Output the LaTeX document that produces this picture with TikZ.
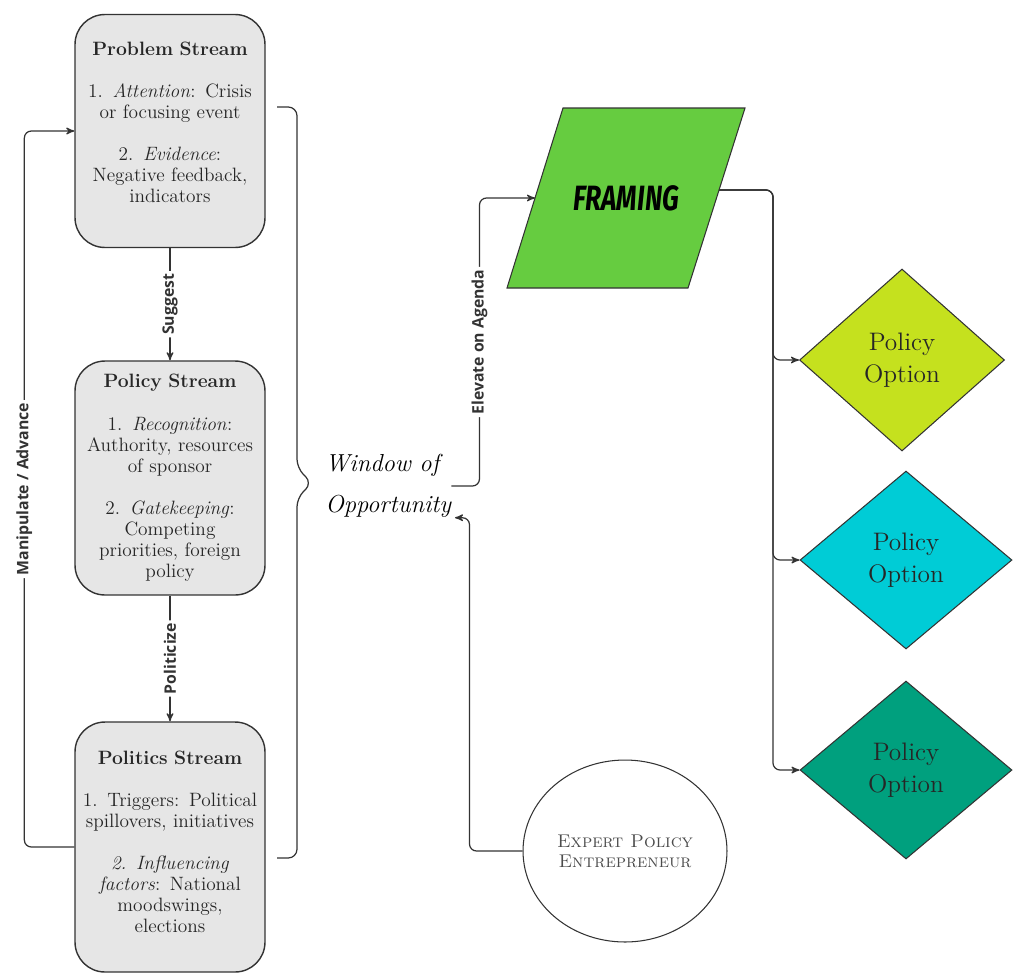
\documentclass[tikz,border=0pt]{standalone}
\usepackage{fontspec}
\usepackage{tikz}
\usetikzlibrary{shapes, arrows, calc}
\newfontfamily\labelfont{Open Sans}
\newfontfamily\framefont{Fira Sans}
\definecolor{streamgray}{HTML}{E6E6E6}
\definecolor{linegray}{HTML}{333333}
\definecolor{framegreen}{HTML}{66CC40}
\definecolor{optlime}{HTML}{C5E11E}
\definecolor{optcyan}{HTML}{00CCD6}
\definecolor{optteal}{HTML}{00A07E}

\begin{document}
\begin{tikzpicture}[x=0.02cm,y=-0.02cm,>=stealth',
	stream/.style={rectangle,rounded corners=17pt,draw=linegray,fill=streamgray,line width=0.8pt,
		text width=3.8cm,inner sep=0pt,align=center,text=black!85,font=\fontsize{11}{12}\selectfont},
	option/.style={diamond,draw=linegray,line width=0.6pt,inner sep=0pt,align=center,
		font=\Large,text=black!85},
	conn/.style={->,draw=linegray,line width=0.7pt,rounded corners=4pt},
	lbl/.style={font=\labelfont\bfseries\fontsize{9}{10}\selectfont,text=linegray,
		fill=white,rotate=90,inner sep=1.5pt}]
	\useasboundingbox (0,0) rectangle (1013,974);

	% the three streams
	\node[stream,minimum height=4.66cm] (problem) at (170,131) {\textbf{Problem Stream}\\[12pt]
		1. \textit{Attention}: Crisis\\ or focusing event\\[12pt]
		2. \textit{Evidence}:\\ Negative feedback,\\ indicators\\[-2pt]\mbox{}};
	\node[stream,minimum height=4.68cm] (policy) at (170,478) {\textbf{Policy Stream}\\[12pt]
		1. \textit{Recognition}:\\ Authority, resources\\ of sponsor\\[12pt]
		2. \textit{Gatekeeping}:\\ Competing\\ priorities, foreign\\ policy};
	\node[stream,minimum height=5cm] (politics) at (170,847) {\textbf{Politics Stream}\\[12pt]
		1. Triggers: Political\\ spillovers, initiatives\\[12pt]
		\textit{2. Influencing}\\ \textit{factors}: National\\ moodswings,\\ elections\\[-6pt]\mbox{}};

	\node[anchor=west,align=left,inner sep=0pt,font=\itshape\fontsize{14}{23}\selectfont] (window) at (325,486) {Window of\\Opportunity};

	% framing parallelogram
	\draw[draw=linegray,fill=framegreen,line width=0.6pt] (507,288) -- (563,108) -- (745,108) -- (688,288) -- cycle;
	\node (framing) at (626,198) {\framefont\bfseries\itshape\fontsize{20}{24}\selectfont\scalebox{0.75}[1]{FRAMING}};
	\coordinate (framing-w) at (535,198);
	\coordinate (framing-e) at (719,190);

	\node[option,fill=optlime,minimum width=4.1cm,minimum height=3.64cm] (opt1) at (902,360) {Policy\\Option};
	\node[option,fill=optcyan,minimum width=4.24cm,minimum height=3.56cm] (opt2) at (906,560) {Policy\\Option};
	\node[option,fill=optteal,minimum width=4.24cm,minimum height=3.56cm] (opt3) at (906,770) {Policy\\Option};

	\node[ellipse,draw=linegray,line width=0.6pt,minimum width=4.08cm,minimum height=3.64cm,inner sep=0pt,align=center,
		text=black!70,font=\fontsize{10.5}{11.5}\selectfont] (expert) at (625,851) {\textsc{Expert Policy}\\\textsc{Entrepreneur}};

	% brace round the streams
	\draw[linegray,line width=0.7pt,rounded corners=5pt] (277,107) -- (297,107) -- (297,468) -- (312,483)
		-- (297,498) -- (297,858) -- (277,858);

	\draw[conn] (problem) -- node[lbl] {Suggest} (policy);
	\draw[conn] (policy) -- node[lbl] {Politicize} (politics);
	\draw[conn] (politics.west) -| node[lbl,pos=0.75] {Manipulate / Advance} ([xshift=-1cm]problem.west) -- (problem.west);
	\draw[conn] (window.east) -- ++(28,0) |- node[lbl,pos=0.25] {Elevate on Agenda} (framing-w);
	\draw[conn] (expert.west) -- ++(-53,0) |- ([xshift=2pt]window.south east);
	\foreach \o in {opt1,opt2,opt3}
		\draw[conn] (framing-e) -- ++(54,0) |- (\o.west);
\end{tikzpicture}
\end{document}
